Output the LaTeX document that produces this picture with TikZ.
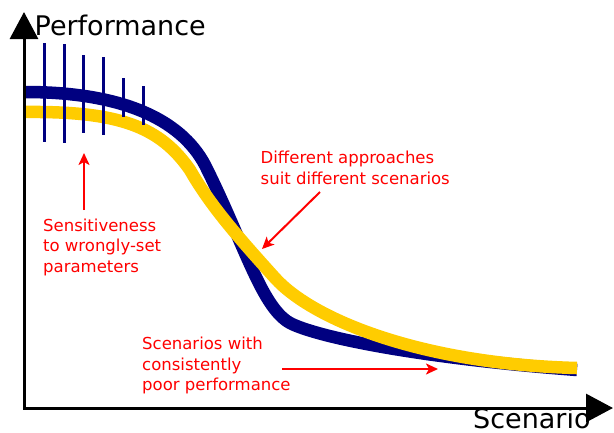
\documentclass[tikz,border=0pt]{standalone}
\usepackage{fontspec}
\setmainfont{DejaVu Sans}
\usetikzlibrary{arrows.meta}
\definecolor{navyblue}{HTML}{000080}
\definecolor{gold}{HTML}{FFCC00}
\definecolor{redlab}{HTML}{FF0000}
\tikzset{
  axis/.style={line width=3pt, black, {Triangle[length=27pt,width=28pt]}-{Triangle[length=27pt,width=28pt]}},
  curveblue/.style={line width=12.5pt, navyblue, line cap=butt, line join=round},
  curvegold/.style={line width=12.5pt, gold, line cap=butt, line join=round},
  errbar/.style={line width=3pt, navyblue},
  axislabel/.style={inner sep=0pt, anchor=base west, font=\fontsize{27}{32}\selectfont},
  redlabel/.style={inner sep=0pt, anchor=base west, align=left, text=redlab, font=\fontsize{16.5}{20.5}\selectfont},
  redarrow/.style={line width=2pt, redlab, -{Stealth[length=12pt,width=11pt,inset=3pt]}}
}
\begin{document}
\begin{tikzpicture}[x=1pt,y=-1pt]
\useasboundingbox (0,0) rectangle (614,432);
% curves
\draw[curveblue] (25,92) .. controls (120,92) and (180,118) .. (205,165)
  .. controls (245,245) and (262,310) .. (292,324)
  .. controls (322,338) and (420,358) .. (577,370);
\draw[curvegold] (25,112) .. controls (120,111) and (160,127) .. (190,170)
  .. controls (210,205) and (237,236) .. (275,278)
  .. controls (312,319) and (420,364) .. (577,368);
% error bars
\coordinate (e1t) at (44,43);  \coordinate (e1b) at (44,142);
\coordinate (e2t) at (64,44);  \coordinate (e2b) at (64,143);
\coordinate (e3t) at (83,55);  \coordinate (e3b) at (83,133);
\coordinate (e4t) at (103,57); \coordinate (e4b) at (103,135);
\coordinate (e5t) at (123,78); \coordinate (e5b) at (123,117);
\coordinate (e6t) at (143,86); \coordinate (e6b) at (143,125);
\foreach \i in {1,...,6} \draw[errbar] (e\i t) -- (e\i b);
% axes
\coordinate (ytop) at (24,12);
\coordinate (origin) at (24,408);
\coordinate (xend) at (613,408);
\draw[axis] (ytop) -- (origin) -- (xend);
\node[axislabel] (perf) at (34.5,35) {Performance};
\node[axislabel] (scen) at (473,428) {Scenario};
% red labels (base anchor = baseline of last line)
\node[redlabel] (sens) at (43,272) {Sensitiveness\\to wrongly-set\\parameters};
\node[redlabel] (diff) at (260.5,184) {Different approaches\\suit different scenarios};
\node[redlabel] (poor) at (142,390.5) {Scenarios with\\consistently\\poor performance};
\coordinate (a1s) at (84,210); \coordinate (a1e) at (84,153);
\coordinate (a2s) at (320,192); \coordinate (a2e) at (262,249);
\coordinate (a3s) at (282,369); \coordinate (a3e) at (438,369);
\draw[redarrow] (a1s) -- (a1e);
\draw[redarrow] (a2s) -- (a2e);
\draw[redarrow] (a3s) -- (a3e);
\end{tikzpicture}
\end{document}
